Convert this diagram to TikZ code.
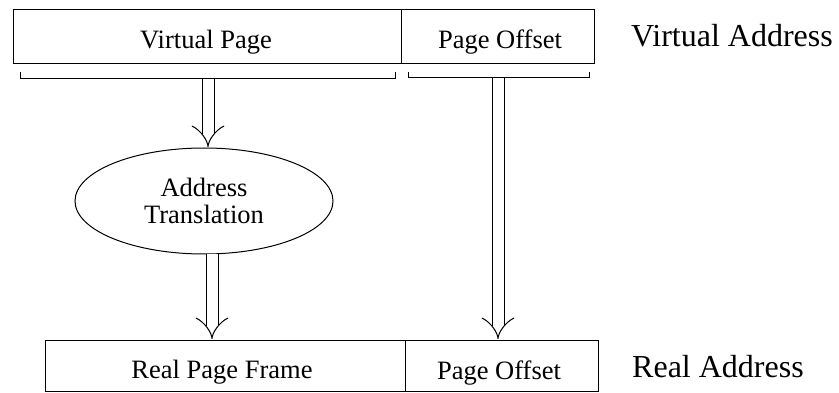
\documentclass[tikz,border=0pt]{standalone}
\usepackage{fontspec}
\setmainfont{Liberation Serif}
\usetikzlibrary{arrows.meta,shapes.geometric}

\tikzset{
  field/.style={draw, line width=1pt, inner sep=0pt},
  fieldtext/.style={anchor=base, inner sep=0pt, font=\fontsize{26.5}{28}\selectfont},
  addrtext/.style={anchor=base west, inner sep=0pt, font=\fontsize{32}{34}\selectfont},
  brace/.style={line width=1pt},
  dblarrow/.style={double, double distance=11pt, line width=1pt,
    -{Implies[length=16pt, width=32pt]}, shorten >=0.5pt},
}

\begin{document}
\begin{tikzpicture}[x=1pt, y=-1pt]
  \useasboundingbox (0,0) rectangle (839,393);

  % virtual address fields
  \node[field, minimum width=388pt, minimum height=54pt] (vpage) at (207,37) {};
  \node[field, minimum width=193pt, minimum height=54pt] (voff) at (497.5,37) {};
  \node[fieldtext] (vpagetxt) at (206,49) {Virtual Page};
  \node[fieldtext] (vofftxt) at (500,49) {Page Offset};
  \node[addrtext] (vaddr) at (631,47) {Virtual Address};

  % brackets under the fields
  \draw[brace] (20,72) -- (20,79) -- (395,79) -- (395,72);
  \draw[brace] (408,72) -- (408,78) -- (589,78) -- (589,72);
  \coordinate (vpb) at (208,79);
  \coordinate (vob) at (498,78);

  % translation step
  \node[draw, ellipse, line width=1pt, minimum width=258pt, minimum height=106pt,
        align=center, font=\fontsize{26.5}{27}\selectfont] (xlate) at (204,201)
        {Address\\Translation};

  % real address fields
  \node[field, minimum width=360pt, minimum height=51pt] (rpage) at (225,365.5) {};
  \node[field, minimum width=193pt, minimum height=51pt] (roff) at (501.5,365.5) {};
  \node[fieldtext] (rpagetxt) at (222,378) {Real Page Frame};
  \node[fieldtext] (rofftxt) at (499,379) {Page Offset};
  \node[addrtext] (raddr) at (632,377) {Real Address};

  % data flow
  \draw[dblarrow] (vpb) -- (vpb |- xlate.north);
  \draw[dblarrow] ([xshift=8pt]xlate.south) -- ([xshift=8pt]xlate.south |- rpage.north);
  \draw[dblarrow] (vob) -- (vob |- roff.north);
\end{tikzpicture}
\end{document}
